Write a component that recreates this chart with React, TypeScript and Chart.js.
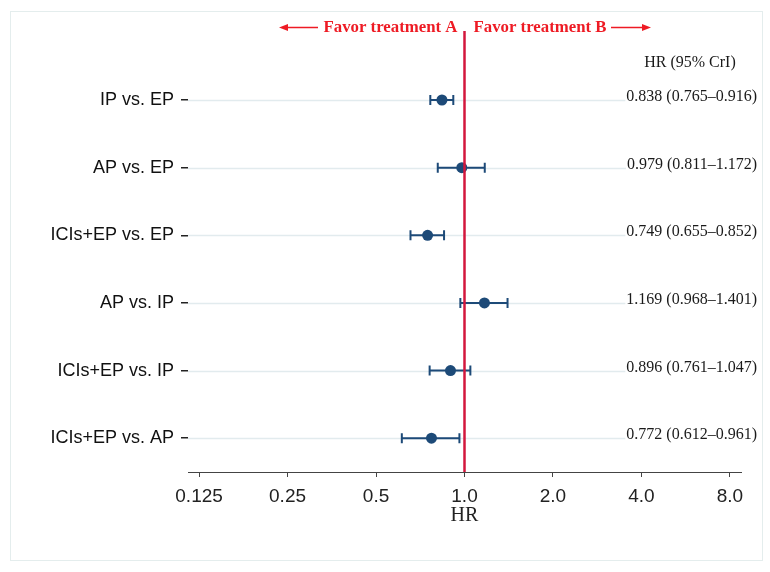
import React, { useEffect, useRef } from "react";
import { Chart, registerables } from "chart.js";

Chart.register(...registerables);

const comparisons = [
  "IP vs. EP",
  "AP vs. EP",
  "ICIs+EP vs. EP",
  "AP vs. IP",
  "ICIs+EP vs. IP",
  "ICIs+EP vs. AP",
];
const hrValues = [0.838, 0.979, 0.749, 1.169, 0.896, 0.772];
const lowerCrI = [0.765, 0.811, 0.655, 0.968, 0.761, 0.612];
const upperCrI = [0.916, 1.172, 0.852, 1.401, 1.047, 0.961];
const ciLabels = [
  "0.838 (0.765–0.916)",
  "0.979 (0.811–1.172)",
  "0.749 (0.655–0.852)",
  "1.169 (0.968–1.401)",
  "0.896 (0.761–1.047)",
  "0.772 (0.612–0.961)",
];
const xTickValues = [0.125, 0.25, 0.5, 1, 2, 4, 8];
const xTickLabels = ["0.125", "0.25", "0.5", "1.0", "2.0", "4.0", "8.0"];
const columnHeader = "HR (95% CrI)";
const favorA = "Favor treatment A";
const favorB = "Favor treatment B";
const referenceHR = 1;

const POINT_COLOR = "#1d4a78";
const RED_LINE = "#d3173d";
const RED_TEXT = "#ee1b24";

const forestPlugin = {
  id: "forestPlugin",
  beforeDraw(chart: any) {
    const { ctx } = chart;
    ctx.save();
    ctx.strokeStyle = "#e4eded";
    ctx.lineWidth = 1;
    ctx.strokeRect(10.5, 11.5, 752, 549);
    ctx.restore();
  },
  beforeDatasetsDraw(chart: any) {
    const { ctx, chartArea, scales } = chart;
    const x = scales.x;
    const y = scales.y;
    ctx.save();
    ctx.font = '16px "Liberation Serif"';
    comparisons.forEach((_, i) => {
      const py = Math.round(y.getPixelForValue(i)) + 0.5;
      const w = ctx.measureText(ciLabels[i]).width;
      ctx.strokeStyle = "#e2ebee";
      ctx.lineWidth = 1.5;
      ctx.beginPath();
      ctx.moveTo(chartArea.left, py);
      ctx.lineTo(757 - w - 1, py);
      ctx.stroke();
    });
    ctx.strokeStyle = POINT_COLOR;
    ctx.lineWidth = 2;
    comparisons.forEach((_, i) => {
      const py = y.getPixelForValue(i);
      const x1 = x.getPixelForValue(lowerCrI[i]);
      const x2 = x.getPixelForValue(upperCrI[i]);
      ctx.beginPath();
      ctx.moveTo(x1, py);
      ctx.lineTo(x2, py);
      ctx.moveTo(x1, py - 5);
      ctx.lineTo(x1, py + 5);
      ctx.moveTo(x2, py - 5);
      ctx.lineTo(x2, py + 5);
      ctx.stroke();
    });
    ctx.restore();
  },
  afterDatasetsDraw(chart: any) {
    const { ctx, chartArea, scales } = chart;
    const x = scales.x;
    const y = scales.y;
    ctx.save();
    const rx = x.getPixelForValue(referenceHR);
    ctx.strokeStyle = RED_LINE;
    ctx.lineWidth = 2.5;
    ctx.beginPath();
    ctx.moveTo(rx, chartArea.top);
    ctx.lineTo(rx, chartArea.bottom);
    ctx.stroke();

    ctx.fillStyle = "#1a1a1a";
    ctx.font = '16px "Liberation Serif"';
    ctx.textBaseline = "middle";
    ctx.textAlign = "center";
    ctx.fillText(columnHeader, 690, 63);
    ctx.textAlign = "right";
    comparisons.forEach((_, i) => {
      const py = y.getPixelForValue(i);
      ctx.fillText(ciLabels[i], 757, py - 3);
    });

    ctx.fillStyle = RED_TEXT;
    ctx.strokeStyle = RED_TEXT;
    ctx.font = 'bold 17px "Liberation Serif"';
    ctx.textAlign = "right";
    ctx.fillText(favorA, rx - 7, 28, 134);
    ctx.textAlign = "left";
    ctx.fillText(favorB, rx + 9, 28, 133);

    const arrowY = 27.5;
    ctx.lineWidth = 1.6;
    ctx.beginPath();
    ctx.moveTo(285, arrowY);
    ctx.lineTo(318, arrowY);
    ctx.stroke();
    ctx.beginPath();
    ctx.moveTo(279, arrowY);
    ctx.lineTo(288, arrowY - 3.5);
    ctx.lineTo(288, arrowY + 3.5);
    ctx.closePath();
    ctx.fill();
    ctx.beginPath();
    ctx.moveTo(611, arrowY);
    ctx.lineTo(644, arrowY);
    ctx.stroke();
    ctx.beginPath();
    ctx.moveTo(651, arrowY);
    ctx.lineTo(642, arrowY - 3.5);
    ctx.lineTo(642, arrowY + 3.5);
    ctx.closePath();
    ctx.fill();
    ctx.restore();
  },
};

export default function App() {
  const canvasRef = useRef<HTMLCanvasElement | null>(null);

  useEffect(() => {
    if (!canvasRef.current) return;
    const chart = new Chart(canvasRef.current, {
      type: "scatter",
      data: {
        datasets: [
          {
            label: "HR",
            data: hrValues.map((v, i) => ({ x: v, y: i })),
            backgroundColor: POINT_COLOR,
            borderColor: POINT_COLOR,
            pointRadius: 5.5,
            pointHoverRadius: 5.5,
            borderWidth: 0,
          },
        ],
      },
      options: {
        animation: false,
        responsive: false,
        devicePixelRatio: 1,
        layout: { padding: { top: 31, right: 29, left: 0, bottom: 0 } },
        plugins: {
          legend: { display: false },
          tooltip: { enabled: false },
        },
        scales: {
          x: {
            type: "logarithmic",
            min: Math.pow(2, -3.125),
            max: Math.pow(2, 3.125),
            afterBuildTicks: (scale: any) => {
              scale.ticks = xTickValues.map((v) => ({ value: v }));
            },
            afterFit: (scale: any) => {
              scale.height = 100;
            },
            border: { display: true, color: "#444", width: 1 },
            grid: {
              drawOnChartArea: false,
              drawTicks: true,
              tickLength: 5,
              tickColor: "#444",
            },
            ticks: {
              padding: 8,
              color: "#222",
              font: { family: '"Liberation Sans"', size: 19 },
              maxRotation: 0,
              autoSkip: false,
              callback: (value: any) => {
                const idx = xTickValues.indexOf(Number(value));
                return idx >= 0 ? xTickLabels[idx] : "";
              },
            },
            title: {
              display: true,
              text: "HR",
              color: "#222",
              font: { family: '"Liberation Serif"', size: 20 },
              padding: { top: 0, bottom: 44 },
            },
          },
          y: {
            type: "linear",
            reverse: true,
            min: -1.02,
            max: 5.5,
            afterBuildTicks: (scale: any) => {
              scale.ticks = comparisons.map((_, i) => ({ value: i }));
            },
            afterFit: (scale: any) => {
              scale.width = 188;
            },
            border: { display: false },
            grid: {
              drawOnChartArea: false,
              drawTicks: true,
              tickLength: 7,
              tickColor: "#222",
              lineWidth: 1.5,
            },
            ticks: {
              padding: 7,
              color: "#111",
              font: { family: '"Liberation Sans"', size: 18 },
              autoSkip: false,
              callback: (value: any) => comparisons[Number(value)] ?? "",
            },
          },
        },
      },
      plugins: [forestPlugin],
    });
    return () => chart.destroy();
  }, []);

  return (
    <div style={{ position: "absolute", left: 0, top: 0, width: 770, height: 572, background: "#fff" }}>
      <canvas ref={canvasRef} width={770} height={572} />
    </div>
  );
}
